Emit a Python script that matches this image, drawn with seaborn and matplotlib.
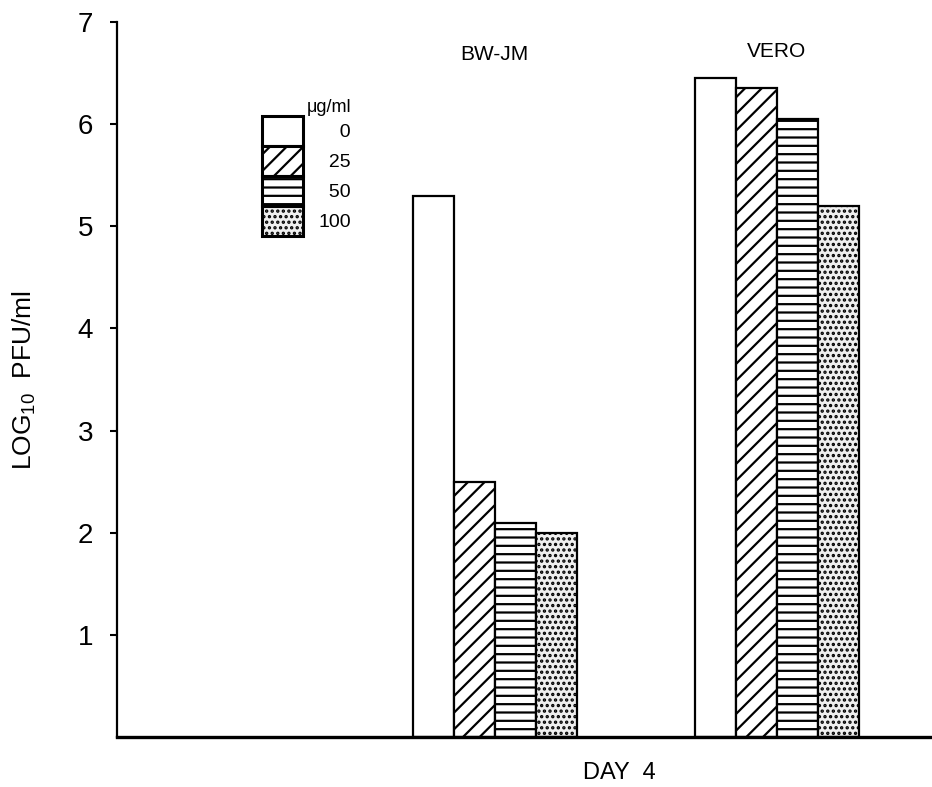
import pandas as pd
import matplotlib
matplotlib.use("Agg")
import matplotlib.pyplot as plt
from matplotlib.patches import Patch
import seaborn as sns

# values (log10 PFU/ml at day 4)
cells = ["BW-JM", "VERO"]
doses = ["0", "25", "50", "100"]
bwjm_values = [5.3, 2.5, 2.1, 2.0]
vero_values = [6.45, 6.35, 6.05, 5.2]
dose_labels = ["\u2007\u20070", "\u200725", "\u200750", "100"]

sns.set_style("ticks")
plt.rcParams['font.family'] = ['Liberation Sans', 'DejaVu Sans']
plt.rcParams['mathtext.default'] = 'regular'
plt.rcParams['hatch.linewidth'] = 1.6
plt.rcParams['text.color'] = 'black'
plt.rcParams['axes.labelcolor'] = 'black'
plt.rcParams['xtick.color'] = 'black'
plt.rcParams['ytick.color'] = 'black'
plt.rcParams['axes.edgecolor'] = 'black'


def build_frame():
    rows = []
    for cell, vals in zip(cells, [bwjm_values, vero_values]):
        for dose, v in zip(doses, vals):
            rows.append({"cell": cell, "dose": dose, "value": v})
    return pd.DataFrame(rows)


df = build_frame()

# fill / hatch for each dose
styles = [
    {"facecolor": "white", "hatch": ""},
    {"facecolor": "white", "hatch": "//"},
    {"facecolor": "white", "hatch": "--"},
    {"facecolor": "#efefef", "hatch": "..."},
]

fig = plt.figure(figsize=(9.32, 7.87), dpi=100)
ax = fig.add_axes([0.1255, 0.0635, 0.8745, 0.9085])

sns.barplot(data=df, x="cell", y="value", hue="dose", hue_order=doses,
            order=cells, width=0.58, gap=0, palette=["white"] * 4,
            edgecolor="black", linewidth=1.6, legend=False, ax=ax)

for container, st in zip(ax.containers, styles):
    for bar in container:
        bar.set_facecolor(st["facecolor"])
        bar.set_hatch(st["hatch"])
        bar.set_edgecolor("black")

ax.set_xlim(-1.34, 1.55)
ax.set_ylim(0, 7)
ax.set_yticks(range(1, 8))
ax.set_yticklabels([str(i) for i in range(1, 8)], fontsize=20)
ax.tick_params(axis="y", direction="out", length=5, width=1.5, pad=12)
ax.set_xticks([])

for side in ["top", "right"]:
    ax.spines[side].set_visible(False)
ax.spines["left"].set_linewidth(1.6)
ax.spines["bottom"].set_linewidth(2.4)

ax.set_ylabel("LOG$_{10}$  PFU/ml", fontsize=19)
ax.yaxis.set_label_coords(-0.097, 0.5)
ax.set_xlabel("DAY  4", fontsize=17)
ax.xaxis.set_label_coords(0.617, -0.035)

ax.text(0, 6.68, "BW-JM", ha="center", va="center", fontsize=15)
ax.text(1, 6.71, "VERO", ha="center", va="center", fontsize=15)

handles = [Patch(facecolor=st["facecolor"], hatch=st["hatch"], edgecolor="black",
                 linewidth=2.2) for st in styles]
leg = ax.legend(handles, dose_labels, title="\u03bcg/ml", loc="upper left",
                bbox_to_anchor=(262 / 932, 1 - 99 / 787), bbox_transform=fig.transFigure,
                frameon=False, fontsize=14, title_fontsize=13, handlelength=2.1,
                handleheight=2.0, labelspacing=0.0, handletextpad=0.8,
                borderpad=0, borderaxespad=0, alignment="right")

fig.savefig("out.png", dpi=100)
